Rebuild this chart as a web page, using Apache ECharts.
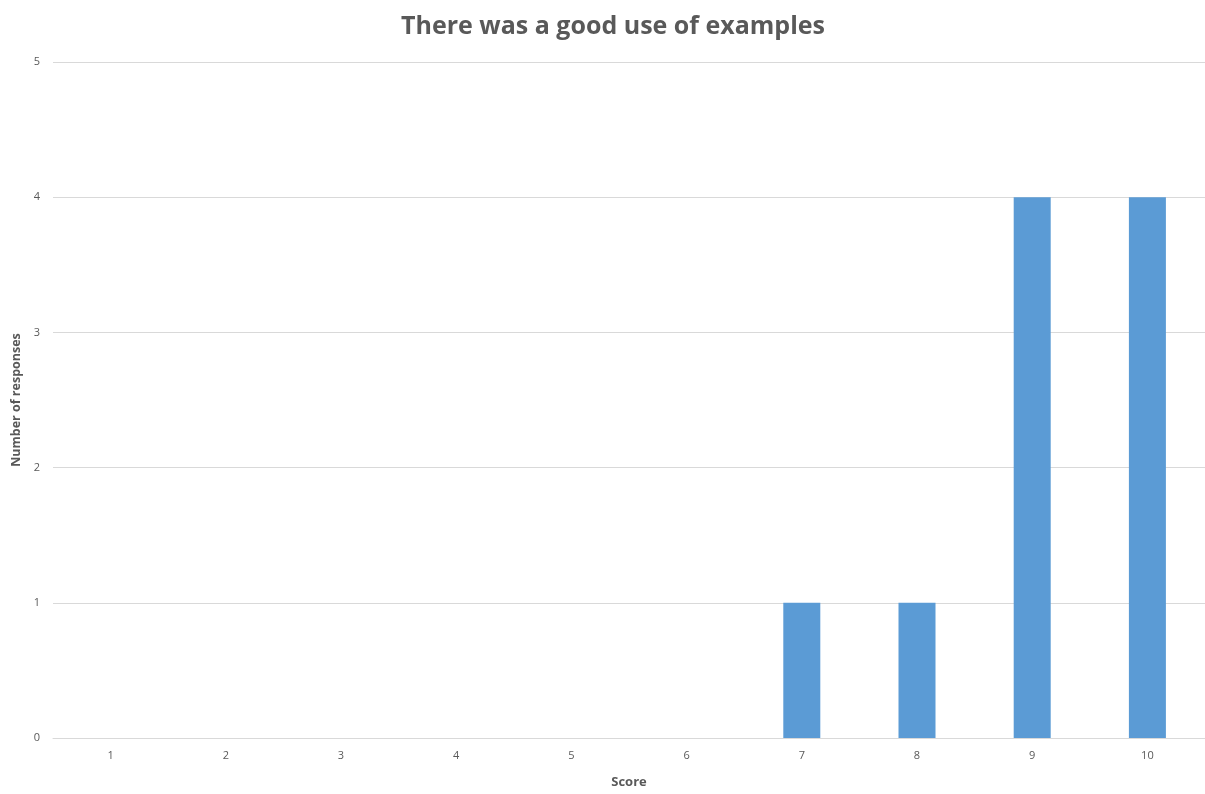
<!DOCTYPE html>
<html>
<head>
<meta charset="utf-8">
<script src="https://cdn.jsdelivr.net/npm/echarts@6/dist/echarts.min.js"></script>
<style>
html,body{margin:0;padding:0;background:#fff;}
#chart{width:1205px;height:794px;}
</style>
</head>
<body>
<div id="chart"></div>
<script>
const categories = ['1','2','3','4','5','6','7','8','9','10'];
const responses = [0,0,0,0,0,0,1,1,4,4];
const titleText = 'There was a good use of examples';
const xName = 'Score';
const yName = 'Number of responses';

const chart = echarts.init(document.getElementById('chart'), null, {renderer:'canvas'});
chart.setOption({
  animation:false,
  backgroundColor:'#ffffff',
  title:{
    text:titleText,
    left:396,
    top:9,
    textStyle:{fontFamily:'Open Sans',fontWeight:'bold',fontSize:25,color:'#595959'}
  },
  grid:{left:53,right:0,top:62,bottom:52,containLabel:false},
  xAxis:{
    type:'category',
    data:categories,
    name:xName,
    nameLocation:'middle',
    nameGap:38,
    nameTextStyle:{fontFamily:'Open Sans',fontWeight:'bold',fontSize:13,color:'#595959'},
    axisLine:{show:true,lineStyle:{color:'#d9d9d9',width:1}},
    axisTick:{show:false},
    axisLabel:{margin:12,fontFamily:'Open Sans',fontSize:11,color:'#595959'}
  },
  yAxis:{
    type:'value',
    min:0,max:5,interval:1,
    name:yName,
    nameLocation:'middle',
    nameGap:28,
    nameTextStyle:{fontFamily:'Open Sans',fontWeight:'bold',fontSize:12.5,color:'#595959'},
    axisLine:{show:false},
    axisTick:{show:false},
    axisLabel:{margin:13,fontFamily:'Open Sans',fontSize:11,color:'#595959'},
    splitLine:{lineStyle:{color:'#d9d9d9',width:1}}
  },
  series:[{
    type:'bar',
    data:responses,
    barWidth:37,
    itemStyle:{color:'#5b9bd5'}
  }]
});
</script>
</body>
</html>
